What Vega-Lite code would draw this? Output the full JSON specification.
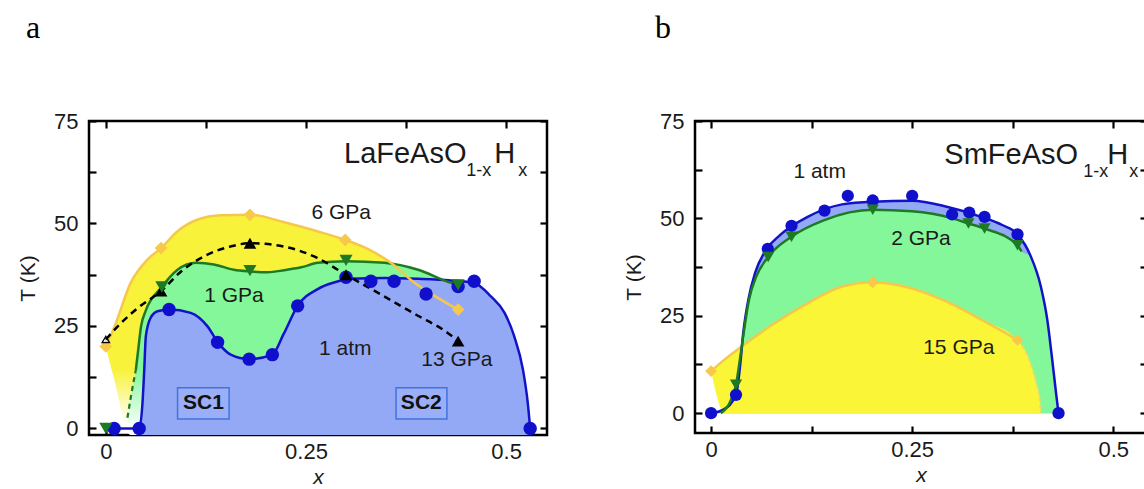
{
  "$schema": "https://vega.github.io/schema/vega-lite/v6.json",
  "background": "white",
  "padding": {"left": 16, "top": 10, "right": 0, "bottom": 0},
  "spacing": 72,
  "config": {
    "font": "Liberation Sans",
    "view": {"stroke": "#000000", "strokeWidth": 2.5},
    "axis": {
      "domain": false, "grid": false, "ticks": true, "tickColor": "#000000", "tickWidth": 2.2, "tickSize": -7,
      "labelFont": "Liberation Sans", "labelFontSize": 22, "labelColor": "#1a1a1a", "labelFlush": false, "labelOverlap": false,
      "titleFont": "Liberation Sans", "titleFontSize": 21, "titleFontWeight": "normal", "titleColor": "#1a1a1a"
    },
    "text": {"font": "Liberation Sans", "fontSize": 21, "color": "#1a1a1a"}
  },
  "datasets": {
    "aCurves": [
      {"c": "yellow", "x": 0, "y": 20, "lo": 20},
      {"c": "yellow", "x": 0.0104, "y": 24.6, "lo": 12},
      {"c": "yellow", "x": 0.031, "y": 35.5, "lo": -1.6},
      {"c": "yellow", "x": 0.052, "y": 41.2, "lo": -1.6},
      {"c": "yellow", "x": 0.069, "y": 44, "lo": -1.6},
      {"c": "yellow", "x": 0.0896, "y": 48.1, "lo": -1.6},
      {"c": "yellow", "x": 0.114, "y": 50.9, "lo": -1.6},
      {"c": "yellow", "x": 0.144, "y": 52, "lo": -1.6},
      {"c": "yellow", "x": 0.18, "y": 52.1, "lo": -1.6},
      {"c": "yellow", "x": 0.223, "y": 50.3, "lo": -1.6},
      {"c": "yellow", "x": 0.264, "y": 48.1, "lo": -1.6},
      {"c": "yellow", "x": 0.299, "y": 46, "lo": -1.6},
      {"c": "yellow", "x": 0.327, "y": 43.8, "lo": -1.6},
      {"c": "yellow", "x": 0.356, "y": 40.4, "lo": -1.6},
      {"c": "yellow", "x": 0.385, "y": 35.6, "lo": -1.6},
      {"c": "yellow", "x": 0.41, "y": 32.4, "lo": -1.6},
      {"c": "yellow", "x": 0.44, "y": 29, "lo": -1.6},
      {"c": "green", "x": 0.027, "y": 2.6, "lo": 2.6},
      {"c": "green", "x": 0.032, "y": 8.5, "lo": -1.6},
      {"c": "green", "x": 0.0375, "y": 14.3, "lo": -1.6},
      {"c": "green", "x": 0.04, "y": 18.4, "lo": -1.6},
      {"c": "green", "x": 0.044, "y": 24.9, "lo": -1.6},
      {"c": "green", "x": 0.05, "y": 28.8, "lo": -1.6},
      {"c": "green", "x": 0.069, "y": 34.3, "lo": -1.6},
      {"c": "green", "x": 0.0896, "y": 38.7, "lo": -1.6},
      {"c": "green", "x": 0.1125, "y": 40.4, "lo": -1.6},
      {"c": "green", "x": 0.135, "y": 40, "lo": -1.6},
      {"c": "green", "x": 0.16, "y": 38.7, "lo": -1.6},
      {"c": "green", "x": 0.18, "y": 38.3, "lo": -1.6},
      {"c": "green", "x": 0.202, "y": 38.1, "lo": -1.6},
      {"c": "green", "x": 0.223, "y": 38.6, "lo": -1.6},
      {"c": "green", "x": 0.244, "y": 39.3, "lo": -1.6},
      {"c": "green", "x": 0.265, "y": 40.4, "lo": -1.6},
      {"c": "green", "x": 0.3, "y": 40.8, "lo": -1.6},
      {"c": "green", "x": 0.348, "y": 40.4, "lo": -1.6},
      {"c": "green", "x": 0.39, "y": 38.7, "lo": -1.6},
      {"c": "green", "x": 0.431, "y": 35.5, "lo": -1.6},
      {"c": "green", "x": 0.44, "y": 35, "lo": -1.6},
      {"c": "blue", "x": 0, "y": 0},
      {"c": "blue", "x": 0.0104, "y": 0},
      {"c": "blue", "x": 0.0417, "y": 0, "lo": -1.6},
      {"c": "blue", "x": 0.0458, "y": 6.2, "lo": -1.6},
      {"c": "blue", "x": 0.048, "y": 14.3, "lo": -1.6},
      {"c": "blue", "x": 0.05, "y": 22.5, "lo": -1.6},
      {"c": "blue", "x": 0.056, "y": 27, "lo": -1.6},
      {"c": "blue", "x": 0.0646, "y": 28.6, "lo": -1.6},
      {"c": "blue", "x": 0.079, "y": 29, "lo": -1.6},
      {"c": "blue", "x": 0.106, "y": 28.2, "lo": -1.6},
      {"c": "blue", "x": 0.127, "y": 24.9, "lo": -1.6},
      {"c": "blue", "x": 0.14, "y": 21, "lo": -1.6},
      {"c": "blue", "x": 0.156, "y": 18, "lo": -1.6},
      {"c": "blue", "x": 0.179, "y": 16.9, "lo": -1.6},
      {"c": "blue", "x": 0.208, "y": 18, "lo": -1.6},
      {"c": "blue", "x": 0.222, "y": 23, "lo": -1.6},
      {"c": "blue", "x": 0.2396, "y": 29.9, "lo": -1.6},
      {"c": "blue", "x": 0.2646, "y": 34, "lo": -1.6},
      {"c": "blue", "x": 0.285, "y": 35.6, "lo": -1.6},
      {"c": "blue", "x": 0.306, "y": 36.5, "lo": -1.6},
      {"c": "blue", "x": 0.348, "y": 36.7, "lo": -1.6},
      {"c": "blue", "x": 0.39, "y": 36.5, "lo": -1.6},
      {"c": "blue", "x": 0.431, "y": 36.1, "lo": -1.6},
      {"c": "blue", "x": 0.46, "y": 35.5, "lo": -1.6},
      {"c": "blue", "x": 0.481, "y": 32.2, "lo": -1.6},
      {"c": "blue", "x": 0.498, "y": 28.2, "lo": -1.6},
      {"c": "blue", "x": 0.51, "y": 22.5, "lo": -1.6},
      {"c": "blue", "x": 0.521, "y": 14.3, "lo": -1.6},
      {"c": "blue", "x": 0.527, "y": 6.2, "lo": -1.6},
      {"c": "blue", "x": 0.53, "y": 0, "lo": -1.6},
      {"c": "black", "x": 0, "y": 21.7},
      {"c": "black", "x": 0.019, "y": 25.7},
      {"c": "black", "x": 0.04, "y": 29.4},
      {"c": "black", "x": 0.069, "y": 33.5},
      {"c": "black", "x": 0.094, "y": 38.3},
      {"c": "black", "x": 0.127, "y": 42.4},
      {"c": "black", "x": 0.156, "y": 44.4},
      {"c": "black", "x": 0.18, "y": 45.2},
      {"c": "black", "x": 0.222, "y": 44.4},
      {"c": "black", "x": 0.264, "y": 41.6},
      {"c": "black", "x": 0.3, "y": 37.5},
      {"c": "black", "x": 0.346, "y": 32.4},
      {"c": "black", "x": 0.387, "y": 27.8},
      {"c": "black", "x": 0.427, "y": 23.3},
      {"c": "black", "x": 0.44, "y": 21.3}
    ],
    "aPts": [
      {"p": "6 GPa", "x": 0, "y": 20},
      {"p": "6 GPa", "x": 0.069, "y": 44},
      {"p": "6 GPa", "x": 0.18, "y": 52.1},
      {"p": "6 GPa", "x": 0.299, "y": 46},
      {"p": "6 GPa", "x": 0.44, "y": 29},
      {"p": "1 atm", "x": 0.0104, "y": 0},
      {"p": "1 atm", "x": 0.0417, "y": 0},
      {"p": "1 atm", "x": 0.079, "y": 29},
      {"p": "1 atm", "x": 0.1396, "y": 21},
      {"p": "1 atm", "x": 0.179, "y": 16.9},
      {"p": "1 atm", "x": 0.208, "y": 18},
      {"p": "1 atm", "x": 0.2396, "y": 29.9},
      {"p": "1 atm", "x": 0.3, "y": 36.9},
      {"p": "1 atm", "x": 0.331, "y": 35.9},
      {"p": "1 atm", "x": 0.36, "y": 35.9},
      {"p": "1 atm", "x": 0.4, "y": 32.8},
      {"p": "1 atm", "x": 0.44, "y": 34.6},
      {"p": "1 atm", "x": 0.46, "y": 35.9},
      {"p": "1 atm", "x": 0.53, "y": 0},
      {"p": "13 GPa", "x": 0.069, "y": 33.5},
      {"p": "13 GPa", "x": 0.18, "y": 45.2},
      {"p": "13 GPa", "x": 0.3, "y": 37.5},
      {"p": "13 GPa", "x": 0.44, "y": 21.3},
      {"p": "13 GPa start", "x": 0, "y": 21.7},
      {"p": "1 GPa", "x": 0, "y": 0},
      {"p": "1 GPa", "x": 0.07, "y": 34.5},
      {"p": "1 GPa", "x": 0.18, "y": 38.5},
      {"p": "1 GPa", "x": 0.3, "y": 41},
      {"p": "1 GPa", "x": 0.44, "y": 35}
    ],
    "aLabels": [
      {"t": "6 GPa", "x": 0.294, "y": 52.6},
      {"t": "1 GPa", "x": 0.16, "y": 32.2},
      {"t": "1 atm", "x": 0.299, "y": 19.4},
      {"t": "13 GPa", "x": 0.4385, "y": 16.6}
    ],
    "aFormula": [
      {"t": "LaFeAsO", "k": "main", "x": 0.2975, "y": 64.8},
      {"t": "1-x", "k": "sub", "x": 0.45, "y": 61.6},
      {"t": "H", "k": "main", "x": 0.485, "y": 64.8},
      {"t": "x", "k": "sub", "x": 0.515, "y": 61.6}
    ],
    "aBoxes": [
      {"t": "SC1", "x1": 0.0896, "x2": 0.154, "y1": 2.3, "y2": 9.9, "xc": 0.122, "yc": 6.1},
      {"t": "SC2", "x1": 0.3625, "x2": 0.426, "y1": 2.3, "y2": 9.9, "xc": 0.394, "yc": 6.1}
    ],
    "bCurves": [
      {"c": "blue", "x": 0, "y": 0, "lo": 0},
      {"c": "blue", "x": 0.0153, "y": 0.9, "lo": 0},
      {"c": "blue", "x": 0.031, "y": 4.7, "lo": 0},
      {"c": "blue", "x": 0.036, "y": 12, "lo": 0},
      {"c": "blue", "x": 0.04, "y": 20.6, "lo": 0},
      {"c": "blue", "x": 0.0464, "y": 29.2, "lo": 0},
      {"c": "blue", "x": 0.0547, "y": 36, "lo": 0},
      {"c": "blue", "x": 0.069, "y": 42.1, "lo": 0},
      {"c": "blue", "x": 0.0856, "y": 45.7, "lo": 0},
      {"c": "blue", "x": 0.12, "y": 50.4, "lo": 0},
      {"c": "blue", "x": 0.163, "y": 53.6, "lo": 0},
      {"c": "blue", "x": 0.201, "y": 54.3, "lo": 0},
      {"c": "blue", "x": 0.25, "y": 54.5, "lo": 0},
      {"c": "blue", "x": 0.293, "y": 53, "lo": 0},
      {"c": "blue", "x": 0.336, "y": 50.4, "lo": 0},
      {"c": "blue", "x": 0.362, "y": 48.3, "lo": 0},
      {"c": "blue", "x": 0.381, "y": 45.9, "lo": 0},
      {"c": "blue", "x": 0.397, "y": 40.5, "lo": 0},
      {"c": "blue", "x": 0.41, "y": 32.5, "lo": 0},
      {"c": "blue", "x": 0.418, "y": 24, "lo": 0},
      {"c": "blue", "x": 0.424, "y": 14, "lo": 0},
      {"c": "blue", "x": 0.429, "y": 5, "lo": 0},
      {"c": "blue", "x": 0.432, "y": 0, "lo": 0},
      {"c": "green", "x": 0.012, "y": 0, "lo": 0},
      {"c": "green", "x": 0.025, "y": 3.5, "lo": 0},
      {"c": "green", "x": 0.031, "y": 7.3, "lo": 0},
      {"c": "green", "x": 0.036, "y": 14, "lo": 0},
      {"c": "green", "x": 0.0405, "y": 20.6, "lo": 0},
      {"c": "green", "x": 0.047, "y": 29, "lo": 0},
      {"c": "green", "x": 0.056, "y": 35, "lo": 0},
      {"c": "green", "x": 0.071, "y": 40.1, "lo": 0},
      {"c": "green", "x": 0.1, "y": 45.3, "lo": 0},
      {"c": "green", "x": 0.14, "y": 49.5, "lo": 0},
      {"c": "green", "x": 0.201, "y": 52.2, "lo": 0},
      {"c": "green", "x": 0.25, "y": 51.8, "lo": 0},
      {"c": "green", "x": 0.3, "y": 50, "lo": 0},
      {"c": "green", "x": 0.32, "y": 48.7, "lo": 0},
      {"c": "green", "x": 0.34, "y": 47.4, "lo": 0},
      {"c": "green", "x": 0.381, "y": 43.1, "lo": 0},
      {"c": "green", "x": 0.386, "y": 41.5, "lo": 0},
      {"c": "green", "x": 0.397, "y": 40.3, "lo": 0},
      {"c": "green", "x": 0.41, "y": 32.3, "lo": 0},
      {"c": "green", "x": 0.418, "y": 23.8, "lo": 0},
      {"c": "green", "x": 0.424, "y": 13.8, "lo": 0},
      {"c": "green", "x": 0.429, "y": 4.8, "lo": 0},
      {"c": "green", "x": 0.431, "y": 0, "lo": 0},
      {"c": "yellow", "x": 0, "y": 10.8, "lo": 10.8},
      {"c": "yellow", "x": 0.017, "y": 13.8, "lo": 0},
      {"c": "yellow", "x": 0.036, "y": 16.8, "lo": 0},
      {"c": "yellow", "x": 0.077, "y": 22.8, "lo": 0},
      {"c": "yellow", "x": 0.12, "y": 28.2, "lo": 0},
      {"c": "yellow", "x": 0.163, "y": 32.5, "lo": 0},
      {"c": "yellow", "x": 0.201, "y": 33.6, "lo": 0},
      {"c": "yellow", "x": 0.25, "y": 32, "lo": 0},
      {"c": "yellow", "x": 0.293, "y": 28.6, "lo": 0},
      {"c": "yellow", "x": 0.336, "y": 24, "lo": 0},
      {"c": "yellow", "x": 0.381, "y": 18.8, "lo": 0},
      {"c": "yellow", "x": 0.395, "y": 14, "lo": 0},
      {"c": "yellow", "x": 0.404, "y": 8, "lo": 0},
      {"c": "yellow", "x": 0.409, "y": 3, "lo": 0},
      {"c": "yellow", "x": 0.41, "y": 0, "lo": 0}
    ],
    "bPts": [
      {"p": "1 atm", "x": 0, "y": 0},
      {"p": "1 atm", "x": 0.031, "y": 4.7},
      {"p": "1 atm", "x": 0.0705, "y": 42.2},
      {"p": "1 atm", "x": 0.1, "y": 48.1},
      {"p": "1 atm", "x": 0.141, "y": 52},
      {"p": "1 atm", "x": 0.17, "y": 55.8},
      {"p": "1 atm", "x": 0.201, "y": 54.6},
      {"p": "1 atm", "x": 0.25, "y": 55.8},
      {"p": "1 atm", "x": 0.2997, "y": 51},
      {"p": "1 atm", "x": 0.321, "y": 51.5},
      {"p": "1 atm", "x": 0.34, "y": 50.4},
      {"p": "1 atm", "x": 0.381, "y": 45.9},
      {"p": "1 atm", "x": 0.432, "y": 0},
      {"p": "2 GPa", "x": 0.031, "y": 7.3},
      {"p": "2 GPa", "x": 0.071, "y": 40.1},
      {"p": "2 GPa", "x": 0.1, "y": 45.3},
      {"p": "2 GPa", "x": 0.201, "y": 52.2},
      {"p": "2 GPa", "x": 0.32, "y": 48.7},
      {"p": "2 GPa", "x": 0.34, "y": 47.4},
      {"p": "2 GPa", "x": 0.381, "y": 43.1},
      {"p": "15 GPa", "x": 0, "y": 10.8},
      {"p": "15 GPa", "x": 0.201, "y": 33.6},
      {"p": "15 GPa", "x": 0.381, "y": 18.8}
    ],
    "bLabels": [
      {"t": "1 atm", "x": 0.135, "y": 61.9},
      {"t": "2 GPa", "x": 0.261, "y": 44.7},
      {"t": "15 GPa", "x": 0.308, "y": 16.8}
    ],
    "bFormula": [
      {"t": "SmFeAsO", "k": "main", "x": 0.29, "y": 63.9},
      {"t": "1-x", "k": "sub", "x": 0.4627, "y": 60.6},
      {"t": "H", "k": "main", "x": 0.4925, "y": 63.9},
      {"t": "x", "k": "sub", "x": 0.52, "y": 60.6}
    ]
  },
  "hconcat": [
    {
      "width": 458,
      "height": 314,
      "title": {"text": "a", "anchor": "start", "frame": "group", "font": "Liberation Serif", "fontSize": 32, "fontWeight": "normal", "color": "#000000", "dx": -63, "offset": 40, "baseline": "alphabetic"},
      "resolve": {"axis": {"x": "independent", "y": "independent"}},
      "layer": [
        {
          "data": {"name": "aCurves"},
          "transform": [{"filter": "datum.c == 'yellow'"}],
          "mark": {"type": "area", "interpolate": "monotone", "fill": {"gradient": "linear", "x1": 0, "y1": 0, "x2": 0, "y2": 1, "stops": [{"offset": 0, "color": "#f8f23a"}, {"offset": 0.7, "color": "#f8f23a"}, {"offset": 0.95, "color": "#ffffff"}]}},
          "encoding": {
            "x": {"field": "x", "type": "quantitative", "scale": {"domain": [-0.021, 0.551], "nice": false, "zero": false},
              "axis": {"orient": "bottom", "values": [0, 0.125, 0.25, 0.375, 0.5], "labelExpr": "datum.value == 0 ? '0' : datum.value == 0.25 ? '0.25' : datum.value == 0.5 ? '0.5' : ''", "labelPadding": 13, "title": "x", "titleFontStyle": "italic", "titlePadding": 4}},
            "y": {"field": "y", "type": "quantitative", "scale": {"domain": [-1.6, 75], "nice": false, "zero": false},
              "axis": {"orient": "left", "values": [0, 12.5, 25, 37.5, 50, 62.5, 75], "labelExpr": "datum.value % 25 == 0 ? '' + datum.value : ''", "labelPadding": 18, "title": "T (K)", "titlePadding": 15}},
            "y2": {"field": "lo"}
          }
        },
        {
          "data": {"name": "aCurves"},
          "transform": [{"filter": "datum.c == 'green'"}],
          "mark": {"type": "area", "interpolate": "monotone", "fill": {"gradient": "linear", "x1": 0, "y1": 0, "x2": 0, "y2": 1, "stops": [{"offset": 0, "color": "#84f79b"}, {"offset": 0.62, "color": "#84f79b"}, {"offset": 0.97, "color": "#ffffff"}]}},
          "encoding": {
            "x": {"field": "x", "type": "quantitative", "axis": {"orient": "top", "values": [0, 0.125, 0.25, 0.375, 0.5], "labels": false, "title": null}},
            "y": {"field": "y", "type": "quantitative", "axis": {"orient": "right", "values": [0, 12.5, 25, 37.5, 50, 62.5, 75], "labels": false, "title": null}},
            "y2": {"field": "lo"}
          }
        },
        {
          "data": {"name": "aCurves"},
          "transform": [{"filter": "datum.c == 'blue' && isValid(datum.lo)"}],
          "mark": {"type": "area", "interpolate": "monotone", "color": "#94a9f6"},
          "encoding": {
            "x": {"field": "x", "type": "quantitative", "axis": null},
            "y": {"field": "y", "type": "quantitative", "axis": null},
            "y2": {"field": "lo"}
          }
        },
        {
          "data": {"name": "aBoxes"},
          "mark": {"type": "rect", "fill": "#9aaff7", "stroke": "#3f74e0", "strokeWidth": 1.5},
          "encoding": {
            "x": {"field": "x1", "type": "quantitative", "axis": null},
            "x2": {"field": "x2"},
            "y": {"field": "y1", "type": "quantitative", "axis": null},
            "y2": {"field": "y2"}
          }
        },
        {
          "data": {"name": "aBoxes"},
          "mark": {"type": "text", "fontWeight": "bold", "fontSize": 21, "align": "center", "baseline": "middle", "color": "#111111"},
          "encoding": {
            "x": {"field": "xc", "type": "quantitative", "axis": null},
            "y": {"field": "yc", "type": "quantitative", "axis": null},
            "text": {"field": "t"}
          }
        },
        {
          "data": {"name": "aCurves"},
          "transform": [{"filter": "datum.c == 'blue'"}],
          "mark": {"type": "line", "interpolate": "monotone", "color": "#1212c8", "strokeWidth": 2.5},
          "encoding": {
            "x": {"field": "x", "type": "quantitative", "axis": null},
            "y": {"field": "y", "type": "quantitative", "axis": null}
          }
        },
        {
          "data": {"name": "aCurves"},
          "transform": [{"filter": "datum.c == 'green' && datum.x <= 0.0376"}],
          "mark": {"type": "line", "interpolate": "monotone", "color": "#1d7a22", "strokeWidth": 2.2, "strokeDash": [5, 4]},
          "encoding": {
            "x": {"field": "x", "type": "quantitative", "axis": null},
            "y": {"field": "y", "type": "quantitative", "axis": null}
          }
        },
        {
          "data": {"name": "aCurves"},
          "transform": [{"filter": "datum.c == 'green' && datum.x >= 0.0374"}],
          "mark": {"type": "line", "interpolate": "monotone", "color": "#1d7a22", "strokeWidth": 2.5},
          "encoding": {
            "x": {"field": "x", "type": "quantitative", "axis": null},
            "y": {"field": "y", "type": "quantitative", "axis": null}
          }
        },
        {
          "data": {"name": "aCurves"},
          "transform": [{"filter": "datum.c == 'yellow'"}],
          "mark": {"type": "line", "interpolate": "monotone", "color": "#f5c84c", "strokeWidth": 2.5},
          "encoding": {
            "x": {"field": "x", "type": "quantitative", "axis": null},
            "y": {"field": "y", "type": "quantitative", "axis": null}
          }
        },
        {
          "data": {"name": "aCurves"},
          "transform": [{"filter": "datum.c == 'black'"}],
          "mark": {"type": "line", "interpolate": "monotone", "color": "#000000", "strokeWidth": 2.5, "strokeDash": [7, 5]},
          "encoding": {
            "x": {"field": "x", "type": "quantitative", "axis": null},
            "y": {"field": "y", "type": "quantitative", "axis": null}
          }
        },
        {
          "data": {"name": "aPts"},
          "transform": [{"filter": "datum.p == '6 GPa'"}],
          "mark": {"type": "point", "shape": "diamond", "filled": true, "size": 160, "color": "#f7c84a", "opacity": 1},
          "encoding": {
            "x": {"field": "x", "type": "quantitative", "axis": null},
            "y": {"field": "y", "type": "quantitative", "axis": null}
          }
        },
        {
          "data": {"name": "aPts"},
          "transform": [{"filter": "datum.p == '1 atm'"}],
          "mark": {"type": "point", "shape": "circle", "filled": true, "size": 180, "color": "#1010cc", "opacity": 1},
          "encoding": {
            "x": {"field": "x", "type": "quantitative", "axis": null},
            "y": {"field": "y", "type": "quantitative", "axis": null}
          }
        },
        {
          "data": {"name": "aPts"},
          "transform": [{"filter": "datum.p == '13 GPa'"}],
          "mark": {"type": "point", "shape": "triangle-up", "filled": true, "size": 160, "color": "#000000", "opacity": 1},
          "encoding": {
            "x": {"field": "x", "type": "quantitative", "axis": null},
            "y": {"field": "y", "type": "quantitative", "axis": null}
          }
        },
        {
          "data": {"name": "aPts"},
          "transform": [{"filter": "datum.p == '13 GPa start'"}],
          "mark": {"type": "point", "shape": "triangle-up", "filled": false, "size": 55, "color": "#000000", "strokeWidth": 1.3, "opacity": 1},
          "encoding": {
            "x": {"field": "x", "type": "quantitative", "axis": null},
            "y": {"field": "y", "type": "quantitative", "axis": null}
          }
        },
        {
          "data": {"name": "aPts"},
          "transform": [{"filter": "datum.p == '1 GPa'"}],
          "mark": {"type": "point", "shape": "triangle-down", "filled": true, "size": 170, "color": "#1d7a22", "opacity": 1},
          "encoding": {
            "x": {"field": "x", "type": "quantitative", "axis": null},
            "y": {"field": "y", "type": "quantitative", "axis": null}
          }
        },
        {
          "data": {"name": "aLabels"},
          "mark": {"type": "text", "align": "center", "baseline": "middle"},
          "encoding": {
            "x": {"field": "x", "type": "quantitative", "axis": null},
            "y": {"field": "y", "type": "quantitative", "axis": null},
            "text": {"field": "t"}
          }
        },
        {
          "data": {"name": "aFormula"},
          "transform": [{"filter": "datum.k == 'main'"}],
          "mark": {"type": "text", "align": "left", "baseline": "alphabetic", "fontSize": 29},
          "encoding": {
            "x": {"field": "x", "type": "quantitative", "axis": null},
            "y": {"field": "y", "type": "quantitative", "axis": null},
            "text": {"field": "t"}
          }
        },
        {
          "data": {"name": "aFormula"},
          "transform": [{"filter": "datum.k == 'sub'"}],
          "mark": {"type": "text", "align": "left", "baseline": "alphabetic", "fontSize": 18},
          "encoding": {
            "x": {"field": "x", "type": "quantitative", "axis": null},
            "y": {"field": "y", "type": "quantitative", "axis": null},
            "text": {"field": "t"}
          }
        }
      ]
    },
    {
      "width": 452,
      "height": 312,
      "title": {"text": "b", "anchor": "start", "frame": "group", "font": "Liberation Serif", "fontSize": 32, "fontWeight": "normal", "color": "#000000", "dx": -40, "offset": 40, "baseline": "alphabetic"},
      "resolve": {"axis": {"x": "independent", "y": "independent"}},
      "layer": [
        {
          "data": {"name": "bCurves"},
          "transform": [{"filter": "datum.c == 'blue'"}],
          "mark": {"type": "area", "interpolate": "monotone", "color": "#94a9f6"},
          "encoding": {
            "x": {"field": "x", "type": "quantitative", "scale": {"domain": [-0.02, 0.542], "nice": false, "zero": false},
              "axis": {"orient": "bottom", "values": [0, 0.125, 0.25, 0.375, 0.5], "labelExpr": "datum.value == 0 ? '0' : datum.value == 0.25 ? '0.25' : datum.value == 0.5 ? '0.5' : ''", "labelPadding": 13, "title": "x", "titleFontStyle": "italic", "titlePadding": 4}},
            "y": {"field": "y", "type": "quantitative", "scale": {"domain": [-5.1, 75], "nice": false, "zero": false},
              "axis": {"orient": "left", "values": [0, 12.5, 25, 37.5, 50, 62.5, 75], "labelExpr": "datum.value % 25 == 0 ? '' + datum.value : ''", "labelPadding": 18, "title": "T (K)", "titlePadding": 15}},
            "y2": {"field": "lo"}
          }
        },
        {
          "data": {"name": "bCurves"},
          "transform": [{"filter": "datum.c == 'green'"}],
          "mark": {"type": "area", "interpolate": "monotone", "color": "#84f79b"},
          "encoding": {
            "x": {"field": "x", "type": "quantitative", "axis": {"orient": "top", "values": [0, 0.125, 0.25, 0.375, 0.5], "labels": false, "title": null}},
            "y": {"field": "y", "type": "quantitative", "axis": {"orient": "right", "values": [0, 12.5, 25, 37.5, 50, 62.5, 75], "labels": false, "title": null}},
            "y2": {"field": "lo"}
          }
        },
        {
          "data": {"name": "bCurves"},
          "transform": [{"filter": "datum.c == 'yellow'"}],
          "mark": {"type": "area", "interpolate": "monotone", "color": "#faf536"},
          "encoding": {
            "x": {"field": "x", "type": "quantitative", "axis": null},
            "y": {"field": "y", "type": "quantitative", "axis": null},
            "y2": {"field": "lo"}
          }
        },
        {
          "data": {"name": "bCurves"},
          "transform": [{"filter": "datum.c == 'yellow' && datum.x <= 0.3811"}],
          "mark": {"type": "line", "interpolate": "monotone", "color": "#f5c84c", "strokeWidth": 2.5},
          "encoding": {
            "x": {"field": "x", "type": "quantitative", "axis": null},
            "y": {"field": "y", "type": "quantitative", "axis": null}
          }
        },
        {
          "data": {"name": "bCurves"},
          "transform": [{"filter": "datum.c == 'yellow' && datum.x >= 0.3809"}],
          "mark": {"type": "line", "interpolate": "monotone", "color": "#f5d56a", "strokeWidth": 1.8, "strokeDash": [4, 3]},
          "encoding": {
            "x": {"field": "x", "type": "quantitative", "axis": null},
            "y": {"field": "y", "type": "quantitative", "axis": null}
          }
        },
        {
          "data": {"name": "bCurves"},
          "transform": [{"filter": "datum.c == 'blue'"}],
          "mark": {"type": "line", "interpolate": "monotone", "color": "#1212c8", "strokeWidth": 2.5},
          "encoding": {
            "x": {"field": "x", "type": "quantitative", "axis": null},
            "y": {"field": "y", "type": "quantitative", "axis": null}
          }
        },
        {
          "data": {"name": "bCurves"},
          "transform": [{"filter": "datum.c == 'green' && datum.x <= 0.387"}],
          "mark": {"type": "line", "interpolate": "monotone", "color": "#1d7a22", "strokeWidth": 2.5},
          "encoding": {
            "x": {"field": "x", "type": "quantitative", "axis": null},
            "y": {"field": "y", "type": "quantitative", "axis": null}
          }
        },
        {
          "data": {"name": "bPts"},
          "transform": [{"filter": "datum.p == '1 atm'"}],
          "mark": {"type": "point", "shape": "circle", "filled": true, "size": 150, "color": "#1010cc", "opacity": 1},
          "encoding": {
            "x": {"field": "x", "type": "quantitative", "axis": null},
            "y": {"field": "y", "type": "quantitative", "axis": null}
          }
        },
        {
          "data": {"name": "bPts"},
          "transform": [{"filter": "datum.p == '2 GPa'"}],
          "mark": {"type": "point", "shape": "triangle-down", "filled": true, "size": 150, "color": "#1d7a22", "opacity": 1},
          "encoding": {
            "x": {"field": "x", "type": "quantitative", "axis": null},
            "y": {"field": "y", "type": "quantitative", "axis": null}
          }
        },
        {
          "data": {"name": "bPts"},
          "transform": [{"filter": "datum.p == '15 GPa'"}],
          "mark": {"type": "point", "shape": "diamond", "filled": true, "size": 140, "color": "#f7c84a", "opacity": 1},
          "encoding": {
            "x": {"field": "x", "type": "quantitative", "axis": null},
            "y": {"field": "y", "type": "quantitative", "axis": null}
          }
        },
        {
          "data": {"name": "bLabels"},
          "mark": {"type": "text", "align": "center", "baseline": "middle"},
          "encoding": {
            "x": {"field": "x", "type": "quantitative", "axis": null},
            "y": {"field": "y", "type": "quantitative", "axis": null},
            "text": {"field": "t"}
          }
        },
        {
          "data": {"name": "bFormula"},
          "transform": [{"filter": "datum.k == 'main'"}],
          "mark": {"type": "text", "align": "left", "baseline": "alphabetic", "fontSize": 29},
          "encoding": {
            "x": {"field": "x", "type": "quantitative", "axis": null},
            "y": {"field": "y", "type": "quantitative", "axis": null},
            "text": {"field": "t"}
          }
        },
        {
          "data": {"name": "bFormula"},
          "transform": [{"filter": "datum.k == 'sub'"}],
          "mark": {"type": "text", "align": "left", "baseline": "alphabetic", "fontSize": 18},
          "encoding": {
            "x": {"field": "x", "type": "quantitative", "axis": null},
            "y": {"field": "y", "type": "quantitative", "axis": null},
            "text": {"field": "t"}
          }
        }
      ]
    }
  ]
}
